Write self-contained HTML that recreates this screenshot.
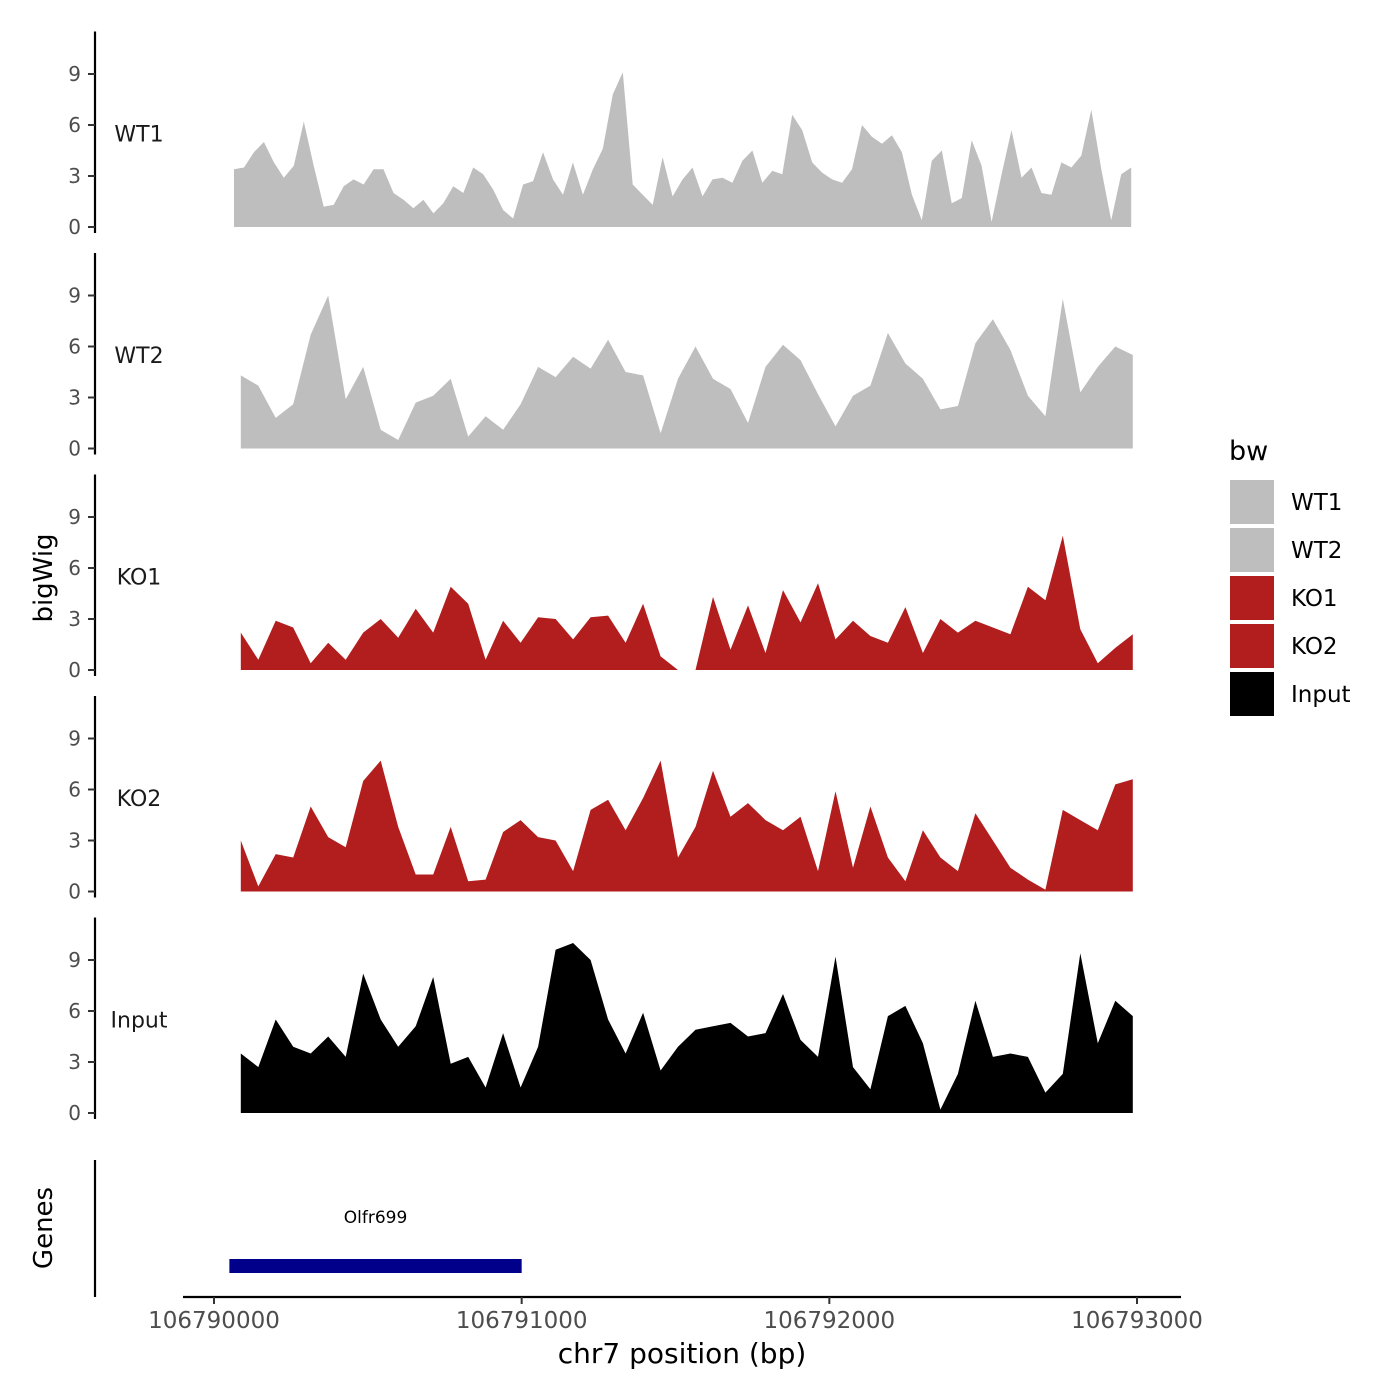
<!DOCTYPE html>
<html><head><meta charset="utf-8"><style>
body{margin:0;background:#fff}
svg{display:block;font-family:"DejaVu Sans","Liberation Sans",sans-serif}
</style></head><body>
<svg id="chart" width="1400" height="1400" viewBox="0 0 1400 1400" xmlns="http://www.w3.org/2000/svg"></svg>
<script>
const fineStart = 106790065, fineStep = 32.4;
const coarseStart = 106790087, coarseStep = 56.85;
const tracks = ["WT1","WT2","KO1","KO2","Input"];
const colors = ["#bebebe","#bebebe","#b21e1e","#b21e1e","#000000"];
const wt1Values = [3.4,3.5,4.4,5.0,3.8,2.9,3.6,6.2,3.6,1.2,1.3,2.4,2.8,2.5,3.4,3.4,2.0,1.6,1.1,1.6,0.8,1.4,2.4,2.0,3.5,3.1,2.2,1.0,0.5,2.5,2.7,4.4,2.8,1.9,3.8,1.9,3.4,4.6,7.8,9.1,2.5,1.9,1.3,4.1,1.8,2.8,3.5,1.8,2.8,2.9,2.6,3.9,4.5,2.6,3.3,3.1,6.6,5.7,3.8,3.2,2.8,2.6,3.4,6.0,5.3,4.9,5.4,4.4,1.9,0.4,3.9,4.5,1.4,1.7,5.1,3.6,0.3,3.1,5.7,2.9,3.5,2.0,1.9,3.8,3.5,4.2,6.9,3.4,0.4,3.1,3.5];
const wt2Values = [4.3,3.7,1.8,2.6,6.7,9.0,2.9,4.8,1.1,0.5,2.7,3.1,4.1,0.7,1.9,1.1,2.6,4.8,4.2,5.4,4.7,6.4,4.5,4.3,0.9,4.1,6.0,4.1,3.5,1.5,4.8,6.1,5.2,3.2,1.3,3.1,3.7,6.8,5.0,4.1,2.3,2.5,6.2,7.6,5.8,3.1,1.9,8.8,3.3,4.8,6.0,5.5];
const ko1Values = [2.2,0.6,2.9,2.5,0.4,1.6,0.6,2.2,3.0,1.9,3.6,2.2,4.9,3.9,0.6,2.9,1.6,3.1,3.0,1.8,3.1,3.2,1.6,3.9,0.8,0,0,4.3,1.2,3.8,1.0,4.7,2.8,5.1,1.8,2.9,2.0,1.6,3.7,1.0,3.0,2.2,2.9,2.5,2.1,4.9,4.1,7.9,2.4,0.4,1.3,2.1];
const ko2Values = [3.0,0.3,2.2,2.0,5.0,3.2,2.6,6.5,7.7,3.8,1.0,1.0,3.8,0.6,0.7,3.5,4.2,3.2,3.0,1.2,4.8,5.4,3.6,5.5,7.7,2.0,3.8,7.1,4.4,5.2,4.2,3.6,4.4,1.2,5.9,1.4,5.0,2.0,0.6,3.6,2.0,1.2,4.6,3.0,1.4,0.7,0.1,4.8,4.2,3.6,6.3,6.6];
const inputValues = [3.5,2.7,5.5,3.9,3.5,4.5,3.3,8.2,5.5,3.9,5.1,8.0,2.9,3.3,1.5,4.7,1.5,3.9,9.6,10.0,9.0,5.5,3.5,5.9,2.5,3.9,4.9,5.1,5.3,4.5,4.7,7.0,4.3,3.3,9.2,2.7,1.4,5.7,6.3,4.1,0.2,2.3,6.6,3.3,3.5,3.3,1.2,2.3,9.4,4.1,6.6,5.7];
const yTicks = [0,3,6,9];
const xTicks = [106790000,106791000,106792000,106793000];
const geneName = "Olfr699", geneStart = 106790050, geneEnd = 106791000;

const svg = document.getElementById('chart');
const NS = "http://www.w3.org/2000/svg";
function mk(tag, attrs, parent){const e=document.createElementNS(NS,tag);for(const k in attrs)e.setAttribute(k,attrs[k]);(parent||svg).appendChild(e);return e;}
const xs = bp => 214 + (bp - 106790000) * 0.30767;
const panelBase = i => 227 + i * 221.5;
const ys = (i, v) => panelBase(i) - v * 17;

const seriesList = [wt1Values, wt2Values, ko1Values, ko2Values, inputValues];
seriesList.forEach((vals, i) => {
  const fine = i === 0;
  const start = fine ? fineStart : coarseStart, step = fine ? fineStep : coarseStep;
  const ax = mk('line',{x1:95,x2:95,y1:ys(i,11.5),y2:panelBase(i)+6,stroke:'#000','stroke-width':2.2});
  
  
  yTicks.forEach(t => {
    const tl = mk('line',{x1:88,x2:95,y1:ys(i,t),y2:ys(i,t),stroke:'#333','stroke-width':2});
    
    
    const tx = mk('text',{x:81,y:ys(i,t)+7,'text-anchor':'end','font-size':20,fill:'#4d4d4d'});
    tx.textContent = t;
    
    
  });
  const lab = mk('text',{x:139,y:ys(i,5.5)+8,'text-anchor':'middle','font-size':22,fill:'#1a1a1a'});
  lab.textContent = tracks[i];
  
  
  let seg = [];
  const segs = [];
  vals.forEach((v, k) => {
    if (v === null) { if (seg.length) segs.push(seg); seg = []; }
    else seg.push([start + step * k, v]);
  });
  if (seg.length) segs.push(seg);
  segs.forEach(s => {
    let d = `M${xs(s[0][0]).toFixed(1)},${panelBase(i)}`;
    s.forEach(p => d += ` L${xs(p[0]).toFixed(1)},${ys(i,p[1]).toFixed(1)}`);
    d += ` L${xs(s[s.length-1][0]).toFixed(1)},${panelBase(i)} Z`;
    const path = mk('path',{d:d,fill:colors[i]});
    
    
  });
});
const yt = mk('text',{x:0,y:0,transform:'translate(52,578) rotate(-90)','text-anchor':'middle','font-size':26,fill:'#000'});
yt.textContent='bigWig';



const ga = mk('line',{x1:95,x2:95,y1:1160,y2:1297,stroke:'#000','stroke-width':2.2});


const gt = mk('text',{x:0,y:0,transform:'translate(52,1228) rotate(-90)','text-anchor':'middle','font-size':26,fill:'#000'});
gt.textContent='Genes';


const gb = mk('rect',{x:xs(geneStart),y:1259,width:xs(geneEnd)-xs(geneStart),height:14,fill:'#00008b'});


const gl = mk('text',{x:(xs(geneStart)+xs(geneEnd))/2,y:1223,'text-anchor':'middle','font-size':17,fill:'#000'});
gl.textContent=geneName;



const xa = mk('line',{x1:183,x2:1181,y1:1297,y2:1297,stroke:'#000','stroke-width':2.2});


xTicks.forEach(t => {
  const tl = mk('line',{x1:xs(t),x2:xs(t),y1:1297,y2:1304,stroke:'#333','stroke-width':2});
  
  
  const tx = mk('text',{x:xs(t),y:1328,'text-anchor':'middle','font-size':23,fill:'#4d4d4d'});
  tx.textContent=t;
  
  
});
const xt = mk('text',{x:682,y:1363,'text-anchor':'middle','font-size':28,fill:'#000'});
xt.textContent='chr7 position (bp)';



const lt = mk('text',{x:1229,y:460,'font-size':27,fill:'#000'});
lt.textContent='bw';


tracks.forEach((t, i) => {
  const r = mk('rect',{x:1230,y:480+i*48,width:44,height:44,fill:colors[i]});
  
  
  const tx = mk('text',{x:1291,y:510+i*48,'font-size':23,fill:'#000'});
  tx.textContent=t;
  
  
});
</script>
</body></html>
